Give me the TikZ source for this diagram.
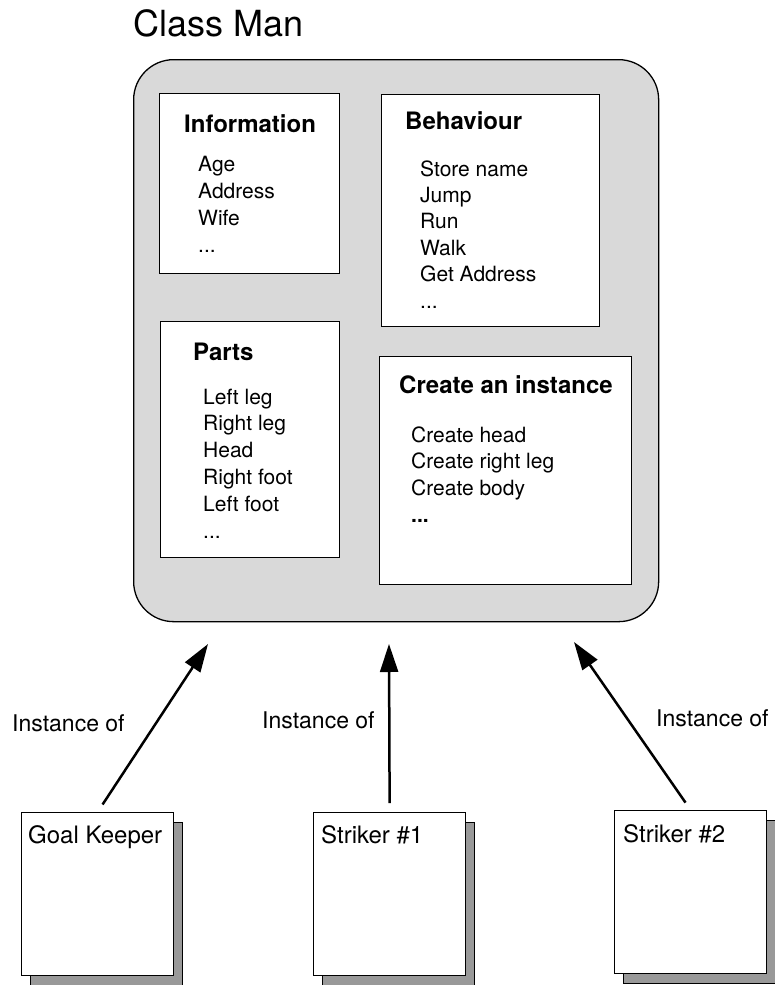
\documentclass[tikz,border=0pt]{standalone}
\usepackage{fontspec}
\setmainfont{TeX Gyre Heros}
\usepackage{tikz}
\usetikzlibrary{arrows.meta}

\newcommand{\pontos}{...}

\tikzset{
  painel/.style={draw, fill=white, line width=1.3pt, inner sep=0pt, anchor=north west},
  titulo/.style={anchor=base west, inner sep=0pt, font=\fontsize{24pt}{28pt}\selectfont\bfseries},
  item/.style={anchor=base west, inner sep=0pt, font=\fontsize{21pt}{25pt}\selectfont},
  rotulo/.style={anchor=base west, inner sep=0pt, font=\fontsize{23pt}{27pt}\selectfont},
  sombra/.style={draw, fill=black!40, line width=1pt, inner sep=0pt, anchor=north west,
    minimum width=152pt, minimum height=163pt},
  objeto/.style={draw, fill=white, line width=1.3pt, inner sep=0pt, anchor=north west,
    minimum width=152pt, minimum height=163pt},
  instancia/.style={-{Triangle[length=28pt,width=18pt]}, line width=2.5pt, shorten <=9pt}
}

\begin{document}
\begin{tikzpicture}[x=1pt, y=-1pt]
        \useasboundingbox (0,0) rectangle (774,985);

        % Classe
        \node[anchor=base west, inner sep=0pt, font=\fontsize{36pt}{40pt}\selectfont] (nome) at (133,36) {Class Man};
        \node[draw, fill=black!15, rounded corners=40pt, line width=1.3pt, inner sep=0pt,
          anchor=north west, minimum width=525pt, minimum height=562pt] (classe) at (133,59) {};

        % Information
        \node[painel, minimum width=180pt, minimum height=180pt] (info) at (159,93) {};
        \node[titulo] (infotit) at (184,132) {Information};
        \foreach \t [count=\i from 0] in {Age, Address, Wife, \pontos}
          \node[item] (info\i) at (198,{171+27.3*\i}) {\t};

        % Behaviour
        \node[painel, minimum width=218pt, minimum height=232pt] (comp) at (381,94) {};
        \node[titulo] (comptit) at (405,129) {Behaviour};
        \foreach \t [count=\i from 0] in {Store name, Jump, Run, Walk, Get Address, \pontos}
          \node[item] (comp\i) at (420,{176+26.4*\i}) {\t};

        % Parts
        \node[painel, minimum width=179pt, minimum height=236pt] (partes) at (160,321) {};
        \node[titulo] (partestit) at (193,360) {Parts};
        \foreach \t [count=\i from 0] in {Left leg, Right leg, Head, Right foot, Left foot, \pontos}
          \node[item] (partes\i) at (203,{404+26.8*\i}) {\t};

        % Create an instance
        \node[painel, minimum width=252pt, minimum height=228pt] (criar) at (379,356) {};
        \node[titulo] (criartit) at (399,393) {Create an instance};
        \foreach \t [count=\i from 0] in {Create head, Create right leg, Create body, \textbf{\pontos}}
          \node[item] (criar\i) at (411,{442+26.7*\i}) {\t};

        % Instancias
        \node[sombra] (goleiro-s) at (30,822) {};
        \node[objeto] (goleiro) at (21,812) {};
        \node[rotulo, font=\fontsize{24pt}{28pt}\selectfont] (goleiro-t) at (28,843) {Goal Keeper};

        \node[sombra] (atac1-s) at (322,822) {};
        \node[objeto] (atac1) at (313,812) {};
        \node[rotulo, font=\fontsize{24pt}{28pt}\selectfont] (atac1-t) at (321,843) {Striker \#1};

        \node[sombra] (atac2-s) at (623,820) {};
        \node[objeto] (atac2) at (614,810) {};
        \node[rotulo, font=\fontsize{24pt}{28pt}\selectfont] (atac2-t) at (623,842) {Striker \#2};

        % Setas
        \coordinate (alvo1) at (208,644);
        \coordinate (alvo2) at (389,644);
        \coordinate (alvo3) at (574,642);
        \draw[instancia] (goleiro.north) -- (alvo1);
        \draw[instancia] (atac1.north) -- (alvo2);
        \draw[instancia] (atac2.north) -- (alvo3);

        \node[rotulo] (rot1) at (12,731) {Instance of};
        \node[rotulo] (rot2) at (262,728) {Instance of};
        \node[rotulo] (rot3) at (656,726) {Instance of};
\end{tikzpicture}
\end{document}
